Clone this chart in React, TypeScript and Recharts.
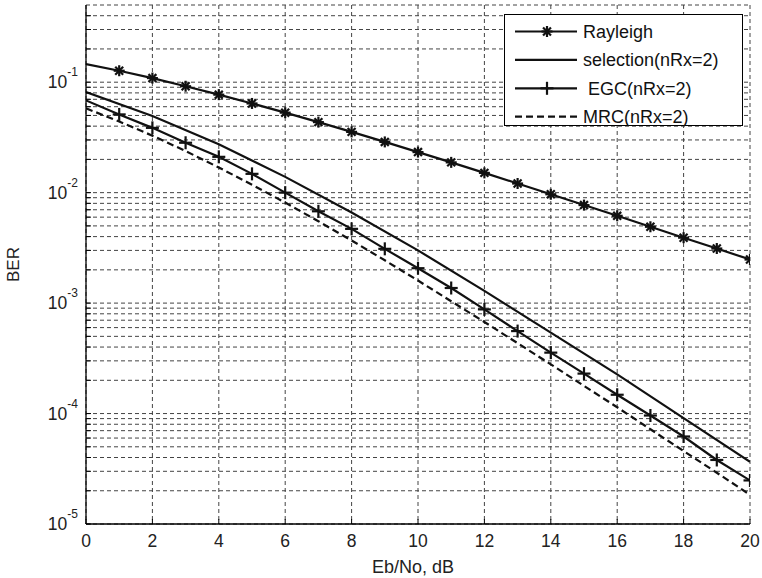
import React from 'react';
import { LineChart, Line, XAxis, YAxis, CartesianGrid, Legend } from 'recharts';

// Eb/No in dB
const ebno = [0, 1, 2, 3, 4, 5, 6, 7, 8, 9, 10, 11, 12, 13, 14, 15, 16, 17, 18, 19, 20];
const rayleigh = [0.146, 0.127, 0.109, 0.0919, 0.0771, 0.0642, 0.053, 0.0435, 0.0355, 0.0288, 0.0233, 0.0188, 0.0151, 0.0121, 0.00967, 0.00772, 0.00617, 0.00491, 0.00391, 0.00312, 0.00248];
const selection = [0.0816, null, 0.0494, null, 0.0274, null, 0.0139, null, 0.0066, null, 0.003, null, 0.00129, null, 0.00054, null, 0.000226, null, 0.000091, null, 0.0000366];
const egc = [0.0684, 0.0511, 0.0386, 0.0283, 0.0211, 0.0148, 0.01, 0.00678, 0.0047, 0.0031, 0.00207, 0.00137, 0.000877, 0.000558, 0.000356, 0.00023, 0.000148, 0.000096, 0.000062, 0.000038, 0.0000248];
const mrc = [0.058, 0.0441, 0.0328, 0.0238, 0.0169, 0.0118, 0.00813, 0.00551, 0.00369, 0.00244, 0.0016, 0.00104, 0.000674, 0.000434, 0.000279, 0.000178, 0.000114, 0.0000721, 0.0000458, 0.0000291, 0.0000184];

const xTicks = [0, 2, 4, 6, 8, 10, 12, 14, 16, 18, 20];
const decades = [1e-5, 1e-4, 1e-3, 1e-2, 1e-1];
const decadeExponents = ['-5', '-4', '-3', '-2', '-1'];
const mantissas = [1, 2, 3, 4, 5, 6, 7, 8, 9];
const yDomain = [1e-5, 0.5];
const seriesNames = ['Rayleigh', 'selection(nRx=2)', ' EGC(nRx=2)', 'MRC(nRx=2)'];
const xLabel = 'Eb/No, dB';
const yLabel = 'BER';

const data = ebno.map((x, i) => ({
  x,
  rayleigh: rayleigh[i],
  selection: selection[i],
  egc: egc[i],
  mrc: mrc[i],
}));
const yTicks = decades.flatMap((d) => mantissas.map((m) => m * d)).filter((v) => v < yDomain[1] * 0.999);

const INK = '#111';
const FONT = '"Liberation Sans", Arial, Helvetica, sans-serif';

const asteriskShape = (cx: number, cy: number, r: number, key?: any) => {
  const d = r * 0.72;
  return (
    <g key={key} stroke={INK} strokeWidth={2.2} fill="none">
      <line x1={cx - r} y1={cy} x2={cx + r} y2={cy} />
      <line x1={cx} y1={cy - r} x2={cx} y2={cy + r} />
      <line x1={cx - d} y1={cy - d} x2={cx + d} y2={cy + d} />
      <line x1={cx - d} y1={cy + d} x2={cx + d} y2={cy - d} />
    </g>
  );
};

const plusShape = (cx: number, cy: number, r: number, key?: any) => (
  <g key={key} stroke={INK} strokeWidth={2.2} fill="none">
    <line x1={cx - r} y1={cy} x2={cx + r} y2={cy} />
    <line x1={cx} y1={cy - r} x2={cx} y2={cy + r} />
  </g>
);

const AsteriskDot = (p: any) => {
  const k = `a${p.index}`;
  if (p.index === 0 || p.cx == null || p.cy == null) return <g key={k} />;
  return asteriskShape(p.cx, p.cy, 5.5, k);
};

const PlusDot = (p: any) => {
  const k = `p${p.index}`;
  if (p.index === 0 || p.cx == null || p.cy == null) return <g key={k} />;
  return plusShape(p.cx, p.cy, 6.5, k);
};

const YTick = (props: any) => {
  const { x, y, payload } = props;
  const idx = decades.findIndex((d) => Math.abs(payload.value / d - 1) < 1e-6);
  if (idx < 0) return <g />;
  return (
    <text x={x} y={y} dy={6} textAnchor="end" fontSize={17.5} fill="#222" fontFamily={FONT}>
      10
      <tspan fontSize={12} dy={-12}>{decadeExponents[idx]}</tspan>
    </text>
  );
};

const XTick = (props: any) => {
  const { x, y, payload } = props;
  return (
    <text x={x} y={y} dy={12} textAnchor="middle" fontSize={17.5} fill="#222" fontFamily={FONT}>
      {payload.value}
    </text>
  );
};

const EmptyTick = () => <g />;

const LegendBox = () => {
  const rowY = (i: number) => 17.5 + 28.4 * i;
  return (
    <svg width={239} height={112} style={{ display: 'block' }}>
      <rect x={0.5} y={0.5} width={238} height={111} fill="#fff" stroke="#000" strokeWidth={1} />
      {seriesNames.map((name, i) => {
        const cy = rowY(i);
        return (
          <g key={name}>
            <line x1={11} y1={cy} x2={73} y2={cy} stroke={INK} strokeWidth={2.2} strokeDasharray={i === 3 ? '7 4' : undefined} />
            {i === 0 && asteriskShape(43, cy, 5.5)}
            {i === 2 && plusShape(43, cy, 6.5)}
            <text x={79} y={cy + 6.3} fontSize={18} fill="#111" fontFamily={FONT} style={{ whiteSpace: 'pre' }}>
              {name}
            </text>
          </g>
        );
      })}
    </svg>
  );
};

export default function App() {
  return (
    <div style={{ position: 'absolute', left: 0, top: 0, width: 762, height: 578, background: '#fff' }}>
      <LineChart
        width={762}
        height={578}
        data={data}
        margin={{ top: 5, right: 12, bottom: 0, left: 0 }}
        style={{ fontFamily: FONT }}
      >
        <CartesianGrid stroke="#444" strokeDasharray="4 3" strokeWidth={1} />
        <XAxis
          dataKey="x"
          type="number"
          domain={[0, 20]}
          ticks={xTicks}
          interval={0}
          height={54}
          tickSize={-5}
          tickMargin={16}
          tick={<XTick />}
          axisLine={{ stroke: '#000', strokeWidth: 1.3 }}
          tickLine={{ stroke: '#000' }}
          allowDataOverflow
          label={{ value: xLabel, position: 'insideBottom', offset: 5, fontSize: 18, fill: '#222', dx: -5 }}
        />
        <XAxis
          xAxisId="top"
          orientation="top"
          dataKey="x"
          type="number"
          domain={[0, 20]}
          ticks={xTicks}
          interval={0}
          height={0}
          tickSize={-5}
          tick={<EmptyTick />}
          axisLine={{ stroke: '#000', strokeWidth: 1.3 }}
          tickLine={{ stroke: '#000' }}
          allowDataOverflow
        />
        <YAxis
          type="number"
          scale="log"
          domain={yDomain}
          ticks={yTicks}
          interval={0}
          width={86}
          tickSize={-5}
          tickMargin={13}
          tick={<YTick />}
          axisLine={{ stroke: '#000', strokeWidth: 1.3 }}
          tickLine={{ stroke: '#000' }}
          allowDataOverflow
          label={{ value: yLabel, angle: -90, position: 'insideLeft', offset: 13, fontSize: 17, fill: '#222', style: { textAnchor: 'middle' } }}
        />
        <YAxis
          yAxisId="r"
          orientation="right"
          type="number"
          scale="log"
          domain={yDomain}
          ticks={yTicks}
          interval={0}
          width={0}
          tickSize={-5}
          tick={<EmptyTick />}
          axisLine={{ stroke: '#000', strokeWidth: 1.3 }}
          tickLine={{ stroke: '#000' }}
          allowDataOverflow
        />
        <Legend
          layout="vertical"
          align="center"
          verticalAlign="middle"
          content={<LegendBox />}
          wrapperStyle={{ position: 'absolute', left: 504, top: 14, width: 239, height: 112 }}
        />
        <Line dataKey="rayleigh" name={seriesNames[0]} stroke={INK} strokeWidth={2.2} dot={AsteriskDot} activeDot={false} isAnimationActive={false} />
        <Line dataKey="selection" name={seriesNames[1]} stroke={INK} strokeWidth={2.2} dot={false} connectNulls activeDot={false} isAnimationActive={false} />
        <Line dataKey="egc" name={seriesNames[2]} stroke={INK} strokeWidth={2.2} dot={PlusDot} activeDot={false} isAnimationActive={false} />
        <Line dataKey="mrc" name={seriesNames[3]} stroke={INK} strokeWidth={2.2} strokeDasharray="7 4" dot={false} activeDot={false} isAnimationActive={false} />
      </LineChart>
    </div>
  );
}
